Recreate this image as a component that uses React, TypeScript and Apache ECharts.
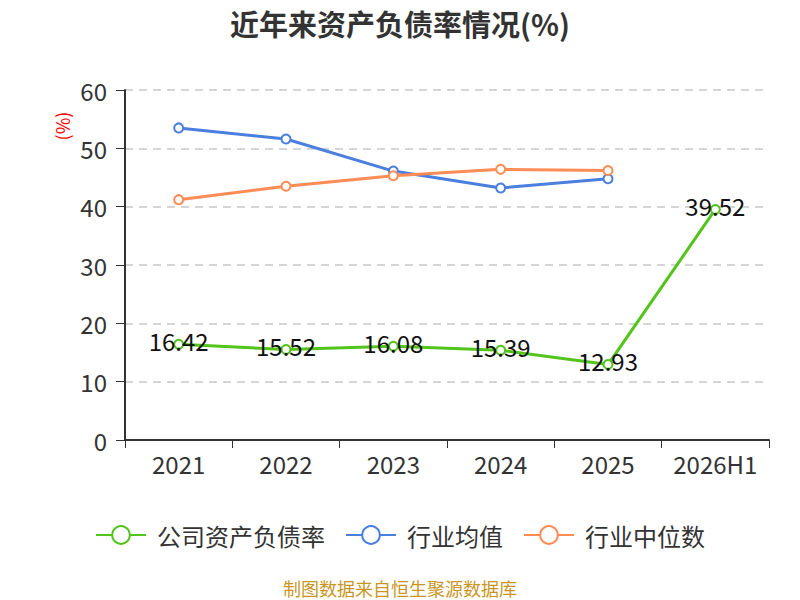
import React, { useEffect, useRef } from "react";
import * as echarts from "echarts";

const categories = ["2021", "2022", "2023", "2024", "2025", "2026H1"];
const companyRatio = [16.42, 15.52, 16.08, 15.39, 12.93, 39.52];
const industryAvg = [53.5, 51.6, 46.1, 43.2, 44.8, null];
const industryMedian = [41.2, 43.5, 45.3, 46.4, 46.2, null];
const seriesNames = ["公司资产负债率", "行业均值", "行业中位数"];
const colors = ["#52c41a", "#4a7fe0", "#ff8c55"];

export default function App() {
  const ref = useRef<HTMLDivElement>(null);
  useEffect(() => {
    if (!ref.current) return;
    const chart = echarts.init(ref.current, null, { renderer: "svg" });
    const font = "'Noto Sans CJK SC', 'Noto Sans', sans-serif";
    chart.setOption({
      animation: false,
      textStyle: { fontFamily: font },
      graphic: [
        {
          type: "text",
          x: 400,
          y: 23,
          style: {
            text: "近年来资产负债率情况(%)",
            fill: "#333",
            fontSize: 29,
            fontWeight: "bold",
            fontFamily: font,
            textAlign: "center",
            textVerticalAlign: "middle",
          },
        },
        {
          type: "text",
          x: 62,
          y: 126,
          rotation: Math.PI / 2,
          style: {
            text: "(%)",
            fill: "#ff0000",
            fontSize: 18,
            fontFamily: font,
            textAlign: "center",
            textVerticalAlign: "middle",
          },
        },
        {
          type: "text",
          x: 400,
          y: 588,
          style: {
            text: "制图数据来自恒生聚源数据库",
            fill: "#c9961f",
            fontSize: 18,
            fontFamily: font,
            textAlign: "center",
            textVerticalAlign: "middle",
          },
        },
      ],
      legend: {
        top: 518,
        left: "center",
        itemWidth: 50,
        itemHeight: 22,
        itemGap: 20,
        textStyle: { fontSize: 24, color: "#333", fontFamily: font, padding: [0, 0, 0, 6] },
        data: seriesNames,
      },
      grid: { left: 125, right: 31, top: 90, bottom: 160 },
      xAxis: {
        type: "category",
        data: categories,
        axisLine: { lineStyle: { color: "#333", width: 2 } },
        axisTick: { show: true, interval: 0, lineStyle: { color: "#333" }, length: 8 },
        axisLabel: { interval: 0, fontSize: 24, color: "#333", margin: 11 },
      },
      yAxis: {
        type: "value",
        min: 0,
        max: 60,
        interval: 10,
        axisLine: { show: true, lineStyle: { color: "#333", width: 2 } },
        axisTick: { show: true, lineStyle: { color: "#333" }, length: 9 },
        axisLabel: { fontSize: 24, color: "#333", margin: 18 },
        splitLine: { lineStyle: { type: [8, 6], color: "#c8c8c8", width: 1.5 } },
      },
      series: [
        {
          name: seriesNames[0],
          type: "line",
          data: companyRatio,
          color: colors[0],
          symbol: "emptyCircle",
          symbolSize: 9,
          lineStyle: { width: 3 },
          label: {
            show: true,
            position: "inside",
            offset: [0, -4],
            fontSize: 24,
            color: "#111",
          },
          z: 3,
        },
        {
          name: seriesNames[1],
          type: "line",
          data: industryAvg,
          color: colors[1],
          symbol: "emptyCircle",
          symbolSize: 9,
          lineStyle: { width: 3 },
        },
        {
          name: seriesNames[2],
          type: "line",
          data: industryMedian,
          color: colors[2],
          symbol: "emptyCircle",
          symbolSize: 9,
          lineStyle: { width: 3 },
        },
      ],
    });
    return () => chart.dispose();
  }, []);
  return (
    <div
      ref={ref}
      style={{ width: 800, height: 600, position: "absolute", left: 0, top: 0 }}
    />
  );
}
